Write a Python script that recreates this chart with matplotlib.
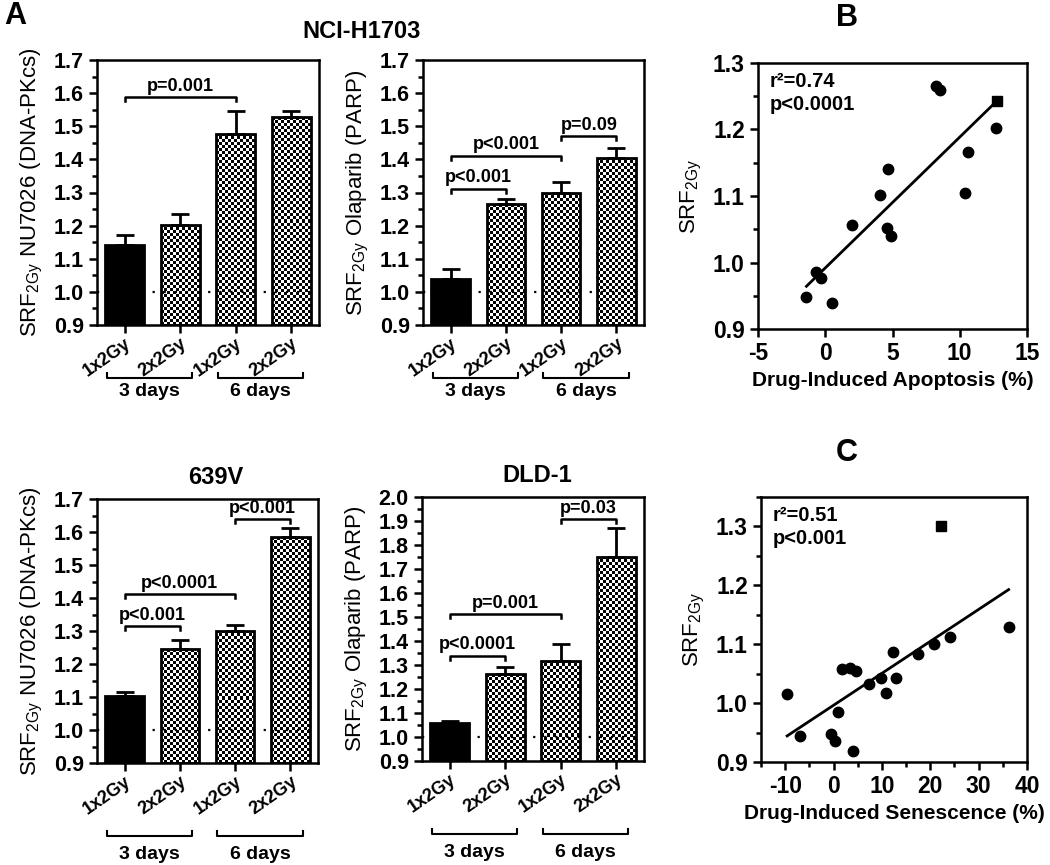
import numpy as np
import matplotlib
matplotlib.use("Agg")
import matplotlib.pyplot as plt
import matplotlib.transforms as mtrans
from matplotlib.ticker import MultipleLocator

plt.rcParams['font.family'] = ['Liberation Sans', 'DejaVu Sans']
plt.rcParams['mathtext.default'] = 'regular'
plt.rcParams['mathtext.fontset'] = 'custom'
plt.rcParams['mathtext.rm'] = 'Liberation Sans'
plt.rcParams['axes.unicode_minus'] = False

W, H = 1050, 865

# ---- data: bar panels ----
conditions = ["1x2Gy", "2x2Gy", "1x2Gy", "2x2Gy"]
groups = ["3 days", "6 days"]

h1703_nu_mean = [1.141, 1.202, 1.478, 1.527]
h1703_nu_sem = [0.032, 0.032, 0.068, 0.019]
h1703_nu_comp = [(0, 2, 1.587, "p=0.001")]

h1703_ola_mean = [1.040, 1.265, 1.300, 1.405]
h1703_ola_sem = [0.028, 0.015, 0.032, 0.028]
h1703_ola_comp = [(0, 1, 1.312, "p<0.001"), (0, 2, 1.411, "p<0.001"), (2, 3, 1.470, "p=0.09")]

v639_nu_mean = [1.103, 1.245, 1.301, 1.584]
v639_nu_sem = [0.011, 0.028, 0.017, 0.027]
v639_nu_comp = [(0, 1, 1.315, "p<0.001"), (0, 2, 1.411, "p<0.0001"), (2, 3, 1.639, "p<0.001")]

dld1_ola_mean = [1.057, 1.261, 1.318, 1.751]
dld1_ola_sem = [0.010, 0.032, 0.069, 0.119]
dld1_ola_comp = [(0, 1, 1.339, "p<0.0001"), (0, 2, 1.511, "p=0.001"), (2, 3, 1.908, "p=0.03")]

# ---- data: scatter panels ----
apoptosis = [-1.4, -0.7, -0.3, 0.5, 2.0, 4.1, 4.7, 4.6, 4.9, 8.2, 8.5, 10.4, 10.6, 12.7]
srf_apoptosis = [0.948, 0.986, 0.977, 0.939, 1.057, 1.102, 1.141, 1.052, 1.040, 1.265, 1.259, 1.105, 1.166, 1.202]
apoptosis_sq = [12.75]
srf_apoptosis_sq = [1.243]

senescence = [-9.6, -6.9, -0.5, 0.3, 1.0, 1.7, 3.3, 4.7, 4.1, 7.4, 9.8, 10.9, 12.2, 12.9, 17.4, 20.7, 24.1, 36.2]
srf_senescence = [1.015, 0.944, 0.947, 0.935, 0.985, 1.058, 1.059, 1.055, 0.919, 1.032, 1.042, 1.018,
                  1.087, 1.043, 1.083, 1.100, 1.112, 1.130]
senescence_sq = [22.3]
srf_senescence_sq = [1.300]

LW = 1.8
fig = plt.figure(figsize=(W / 100, H / 100), dpi=100)


def px_axes(x0, y0, x1, y1):
    return fig.add_axes([x0 / W, 1 - y1 / H, (x1 - x0) / W, (y1 - y0) / H])


def style_axes(ax, size):
    for s in ax.spines.values():
        s.set_linewidth(LW)
    ax.tick_params(which='major', direction='out', length=6, width=LW, labelsize=size)
    ax.tick_params(which='minor', direction='out', length=3.5, width=LW)
    for lab in ax.get_yticklabels() + ax.get_xticklabels():
        lab.set_fontweight('bold')


def checker(ax, bar):
    x0, y0 = bar.get_x(), bar.get_y()
    w, h = bar.get_width(), bar.get_height()
    p0 = ax.transData.transform((x0, y0))
    p1 = ax.transData.transform((x0 + w, y0 + h))
    nx = max(1, int(round((p1[0] - p0[0]) / 3)))
    ny = max(1, int(round((p1[1] - p0[1]) / 3)))
    grid = np.indices((ny, nx)).sum(axis=0) % 2
    im = ax.imshow(grid, cmap='gray', extent=(x0, x0 + w, y0, y0 + h), aspect='auto',
                   interpolation='nearest', zorder=1.5)
    im.set_clip_path(bar)


def bar_panel(ax, means, sems, comps, ylim, ylabel, tick_h, grp_line, grp_text):
    x = np.arange(len(means))
    base = ylim[0]
    ax.set_xlim(-0.5, len(means) - 0.5)
    ax.set_ylim(*ylim)
    heights = np.array(means) - base
    bars = ax.bar(x, heights, bottom=base, width=0.7, facecolor='none', edgecolor='black',
                  linewidth=2, zorder=3)
    bars[0].set_facecolor('black')
    for b in bars[1:]:
        checker(ax, b)
    ax.set_xlim(-0.5, len(means) - 0.5)
    ax.set_ylim(*ylim)
    ax.axhline(1.0, color='black', linestyle=(0, (1, 4)), linewidth=1.6, zorder=2.5)
    ax.errorbar(x, means, yerr=[np.zeros(len(means)), sems], fmt='none', ecolor='black',
                elinewidth=2, capsize=6.5, capthick=2, zorder=4)
    for i, j, y, txt in comps:
        ax.plot([i, i, j, j], [y - tick_h, y, y, y - tick_h], color='black', lw=1.8, zorder=5)
        ax.text((i + j) / 2, y + tick_h * 0.6, txt, ha='center', va='bottom', fontsize=13,
                fontweight='bold')
    ax.yaxis.set_major_locator(MultipleLocator(0.1))
    ax.yaxis.set_minor_locator(MultipleLocator(0.05))
    ax.yaxis.set_major_formatter(matplotlib.ticker.FormatStrFormatter('%.1f'))
    ax.set_xticks(x)
    ax.set_xticklabels(conditions, rotation=35, ha='right', rotation_mode='anchor',
                       fontsize=13, fontweight='bold')
    ax.set_ylabel(ylabel, fontsize=16, labelpad=6)
    style_axes(ax, 15.5)
    ax.tick_params(axis='x', labelsize=13, pad=1.5)
    # group brackets under the tick labels
    trans = mtrans.blended_transform_factory(ax.transData, ax.transAxes)
    for k, g in enumerate(groups):
        a, b = 2 * k - 0.32, 2 * k + 1 + 0.22
        ax.plot([a, a, b, b], [grp_line + 0.02, grp_line, grp_line, grp_line + 0.02],
                transform=trans, clip_on=False, color='black', lw=1.5)
        ax.text((a + b) / 2, grp_text, g, transform=trans, ha='center', va='center',
                fontsize=14, fontweight='bold')


ax1 = px_axes(97, 60, 319, 325)
bar_panel(ax1, h1703_nu_mean, h1703_nu_sem, h1703_nu_comp, (0.9, 1.7),
          'SRF$_{2Gy}$ NU7026 (DNA-PKcs)', 0.012, -0.200, -0.250)
ax2 = px_axes(423, 60, 644, 325)
bar_panel(ax2, h1703_ola_mean, h1703_ola_sem, h1703_ola_comp, (0.9, 1.7),
          'SRF$_{2Gy}$ Olaparib (PARP)', 0.012, -0.200, -0.250)
ax3 = px_axes(97, 499, 318, 763)
bar_panel(ax3, v639_nu_mean, v639_nu_sem, v639_nu_comp, (0.9, 1.7),
          'SRF$_{2Gy}$ NU7026 (DNA-PKcs)', 0.012, -0.277, -0.348)
ax4 = px_axes(422, 497, 644, 761)
bar_panel(ax4, dld1_ola_mean, dld1_ola_sem, dld1_ola_comp, (0.9, 2.0),
          'SRF$_{2Gy}$ Olaparib (PARP)', 0.017, -0.277, -0.348)


def scatter_panel(ax, xs, ys, xsq, ysq, xlim, ylim, xmaj, xmin, xlabel, stats):
    ax.plot(xs, ys, 'o', color='black', markersize=7.5, zorder=3)
    ax.plot(xsq, ysq, 's', color='black', markersize=7.5, zorder=3)
    fx = list(xs) + list(xsq)
    fy = list(ys) + list(ysq)
    slope, icpt = np.polyfit(fx, fy, 1)
    xx = np.array([min(fx), max(fx)])
    ax.plot(xx, slope * xx + icpt, color='black', lw=2, zorder=2)
    ax.set_xlim(*xlim)
    ax.set_ylim(*ylim)
    ax.xaxis.set_major_locator(MultipleLocator(xmaj))
    if xmin:
        ax.xaxis.set_minor_locator(MultipleLocator(xmin))
    ax.yaxis.set_major_locator(MultipleLocator(0.1))
    ax.yaxis.set_minor_locator(MultipleLocator(0.05))
    ax.yaxis.set_major_formatter(matplotlib.ticker.FormatStrFormatter('%.1f'))
    ax.set_xlabel(xlabel, fontsize=15, fontweight='bold', labelpad=4)
    ax.set_ylabel('SRF$_{2Gy}$', fontsize=16, labelpad=6)
    ax.text(0.045, 0.965, stats, transform=ax.transAxes, ha='left', va='top', fontsize=14.5,
            fontweight='bold', linespacing=1.25)
    style_axes(ax, 16.5)


axB = px_axes(758, 63, 1027, 329)
scatter_panel(axB, apoptosis, srf_apoptosis, apoptosis_sq, srf_apoptosis_sq, (-5, 15), (0.9, 1.3),
              5, None, 'Drug-Induced Apoptosis (%)', 'r\u00b2=0.74\np<0.0001')
axC = px_axes(761, 497, 1027, 762)
scatter_panel(axC, senescence, srf_senescence, senescence_sq, srf_senescence_sq, (-15, 40), (0.9, 1.35),
              10, 5, 'Drug-Induced Senescence (%)', 'r\u00b2=0.51\np<0.001')
axC.set_yticks([0.9, 1.0, 1.1, 1.2, 1.3])
for lab in axC.get_yticklabels():
    lab.set_fontweight('bold')

# titles and panel letters
fig.text(362 / W, 1 - 32 / H, 'NCI-H1703', ha='center', va='center', fontsize=17, fontweight='bold')
fig.text(216 / W, 1 - 477 / H, '639V', ha='center', va='center', fontsize=17, fontweight='bold')
fig.text(537 / W, 1 - 475 / H, 'DLD-1', ha='center', va='center', fontsize=17, fontweight='bold')
fig.text(15 / W, 1 - 16 / H, 'A', ha='center', va='center', fontsize=22, fontweight='bold')
fig.text(847 / W, 1 - 18 / H, 'B', ha='center', va='center', fontsize=22, fontweight='bold')
fig.text(847 / W, 1 - 453 / H, 'C', ha='center', va='center', fontsize=22, fontweight='bold')

fig.savefig('out.png', dpi=100)
